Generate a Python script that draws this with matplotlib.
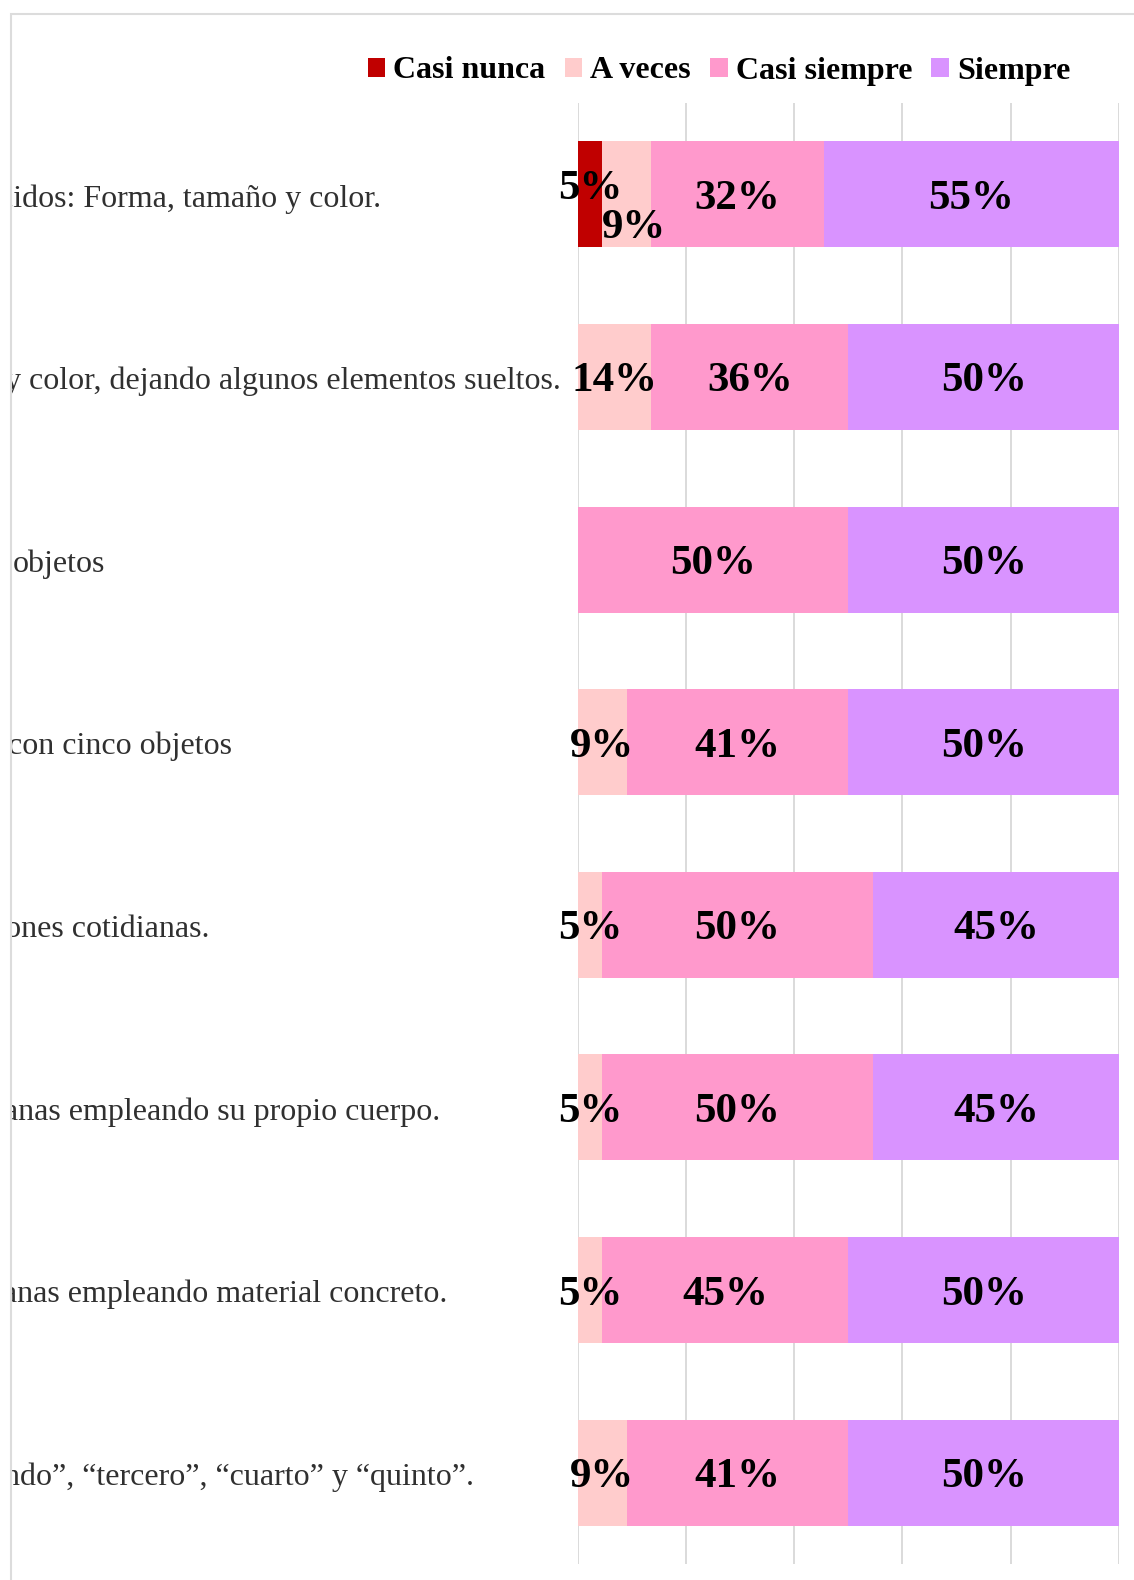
import matplotlib
matplotlib.use("Agg")
import matplotlib.pyplot as plt
from matplotlib.patches import Patch, Rectangle
from matplotlib.transforms import Bbox, TransformedBbox, blended_transform_factory, offset_copy

# ---- data ----
categories = [
    "cidos: Forma, tamaño y color.",
    "y color, dejando algunos elementos sueltos.",
    "objetos",
    "con cinco objetos",
    "ciones cotidianas.",
    "dianas empleando su propio cuerpo.",
    "dianas empleando material concreto.",
    "gundo”, “tercero”, “cuarto” y “quinto”.",
]
series_names = ["Casi nunca", "A veces", "Casi siempre", "Siempre"]
casi_nunca = [4.55, 0, 0, 0, 0, 0, 0, 0]
a_veces = [9.09, 13.64, 0, 9.09, 4.55, 4.55, 4.55, 9.09]
casi_siempre = [31.82, 36.36, 50.0, 40.91, 50.0, 50.0, 45.45, 40.91]
siempre = [54.55, 50.0, 50.0, 50.0, 45.45, 45.45, 50.0, 50.0]
x_ticks = [0, 20, 40, 60, 80, 100]

# ---- style / layout ----
colors = ["#C00000", "#FFCCCC", "#FF99CC", "#D993FF"]
label_right_px = [381, 561, 105, 232, 209, 440, 447, 474]
# manual offsets (points) for crowded labels: (row, series) -> (dx, dy)
label_offsets = {(0, 0): (0, 7), (0, 1): (5, -21)}
base_dy = -3.2  # points

W, H = 1134, 1580
plt.rcParams["font.family"] = ["Liberation Serif", "DejaVu Serif"]
fig = plt.figure(figsize=(W / 100, H / 100), dpi=100)
ax_l, ax_r, ax_t, ax_b = 577.5, 1119, 103, 1564
ax = fig.add_axes([ax_l / W, 1 - ax_b / H, (ax_r - ax_l) / W, (ax_b - ax_t) / H])

series = [casi_nunca, a_veces, casi_siempre, siempre]
ypos = list(range(len(categories)))
left = [0.0] * len(categories)
for si, (vals, col) in enumerate(zip(series, colors)):
    ax.barh(ypos, vals, left=left, height=0.58, color=col, edgecolor="none", zorder=2)
    for ri, v in enumerate(vals):
        if v > 0:
            dx, dy = label_offsets.get((ri, si), (0, 0))
            ax.annotate(f"{v:.0f}%", xy=(left[ri] + v / 2, ri), xytext=(dx, dy + base_dy),
                        textcoords="offset points", ha="center", va="center",
                        fontsize=31, fontweight="bold", color="black", zorder=4)
    left = [l + v for l, v in zip(left, vals)]

ax.set_xlim(0, 100)
ax.set_ylim(len(categories) - 0.5, -0.5)
ax.set_xticks(x_ticks)
ax.set_yticks([])
ax.grid(axis="x", color="#dadada", lw=1.4, zorder=0)
ax.set_axisbelow(True)
ax.tick_params(axis="x", length=0, labelbottom=False)
for s in ax.spines.values():
    s.set_visible(False)

# category labels (clipped by chart frame)
clip = TransformedBbox(Bbox.from_extents(12 / W, 0, ax_l / W, 1), fig.transFigure)
trans = offset_copy(blended_transform_factory(fig.transFigure, ax.transData),
                    fig=fig, x=0, y=base_dy, units="points")
for ri, (txt, xr) in enumerate(zip(categories, label_right_px)):
    t = fig.text(xr / W, ri, txt, transform=trans, ha="right", va="center",
                 fontsize=23, color="#303030")
    t.set_clip_box(clip)
    t.set_clip_on(True)

# chart frame border
fig.patches.append(Rectangle((11 / W, -0.1), 1.2, 1 - 14 / H + 0.1, transform=fig.transFigure,
                             fill=False, edgecolor="#dcdcdc", lw=1.5))

# legend
handles = [Patch(facecolor=c, edgecolor="none") for c in colors]
fig.legend(handles, series_names, loc="center", bbox_to_anchor=(719 / W, 1 - 71 / H),
           ncol=4, frameon=False, handlelength=0.55, handleheight=0.55,
           handletextpad=0.25, columnspacing=0.6,
           prop={"family": ["Liberation Serif"], "weight": "bold", "size": 23})

fig.savefig("out.png", dpi=100)
